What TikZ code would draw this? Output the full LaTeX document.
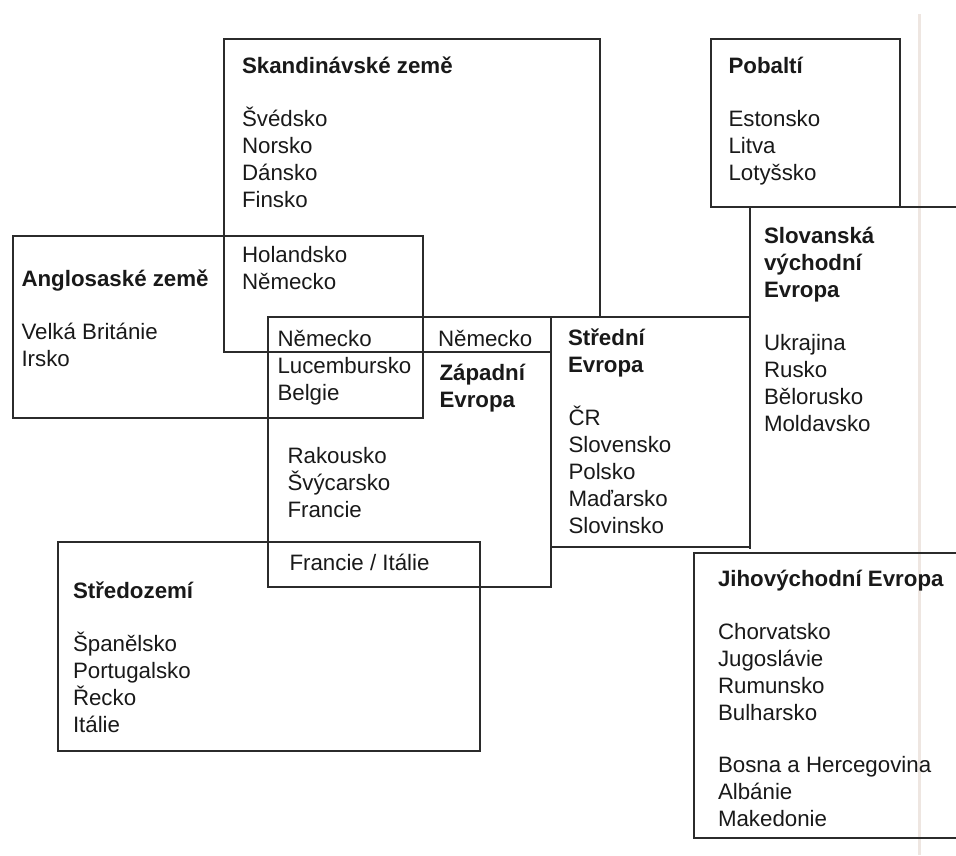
\documentclass[tikz,border=0pt]{standalone}
\usepackage{fontspec}
\setmainfont{Liberation Sans}
\newcommand\txtsize{\fontsize{22.3}{27}\selectfont}
\newcommand\stk[1]{\begin{tabular}[t]{@{}l@{}}#1\end{tabular}}
\definecolor{linecol}{HTML}{2B2B2B}
\definecolor{gutter}{HTML}{EEE6E1}
\tikzset{
  boxline/.style={draw=linecol, line width=1.6pt, line join=miter},
  lbl/.style={anchor=base west, inner sep=0pt, outer sep=0pt, font=\txtsize, text=black!90},
  hd/.style={lbl, font=\txtsize\bfseries},
}
\begin{document}
\begin{tikzpicture}[x=1pt, y=-1pt]
\useasboundingbox (0,0) rectangle (956,855);
% faint page gutter line
\draw[gutter, line width=3pt] (919,14) -- (919,855);
% boxes
\draw[boxline] (551,352) -- (224,352) -- (224,39) -- (600,39) -- (600,317);      % Skandinavske
\draw[boxline] (13,236) rectangle (423,418);                                  % Anglosaske
\draw[boxline] (268,317) rectangle (551,587);                                 % Zapadni
\draw[boxline] (551,317) -- (750,317) -- (750,547) -- (551,547);              % Stredni
\draw[boxline] (711,39) rectangle (900,207);                                  % Pobalti
\draw[boxline] (956,207) -- (750,207) -- (750,549);                           % Slovanska
\draw[boxline] (956,553) -- (694,553) -- (694,838) -- (956,838);              % Jihovychodni
\draw[boxline] (58,542) rectangle (480,751);                                  % Stredozemi
% texts
\node[hd]  (skh)  at (242,73.3)  {Skandinávské země};
\node[lbl] (skl)  at (242,126)   {\stk{Švédsko\\Norsko\\Dánsko\\Finsko}};
\node[lbl] (hol)  at (242,262.3) {\stk{Holandsko\\Německo}};
\node[hd]  (agh)  at (21.5,286.7){Anglosaské země};
\node[lbl] (agl)  at (21.5,339.3){\stk{Velká Británie\\Irsko}};
\node[lbl] (zl1)  at (277.5,346) {\stk{Německo\\Lucembursko\\Belgie}};
\node[lbl] (zn2)  at (438,346)   {Německo};
\node[hd]  (zh)   at (439.5,380.7){\stk{Západní\\Evropa}};
\node[lbl] (zl2)  at (287.5,463.3){\stk{Rakousko\\Švýcarsko\\Francie}};
\node[lbl] (fi)   at (289.5,570) {Francie / Itálie};
\node[hd]  (sdh)  at (73,598.3)  {Středozemí};
\node[lbl] (sdl)  at (73,651)    {\stk{Španělsko\\Portugalsko\\Řecko\\Itálie}};
\node[hd]  (sth)  at (568,345)   {\stk{Střední\\Evropa}};
\node[lbl] (stl)  at (568.5,425) {\stk{ČR\\Slovensko\\Polsko\\Maďarsko\\Slovinsko}};
\node[hd]  (pbh)  at (728.5,73.3){Pobaltí};
\node[lbl] (pbl)  at (728.5,126) {\stk{Estonsko\\Litva\\Lotyšsko}};
\node[hd]  (slh)  at (764,243.3) {\stk{Slovanská\\východní\\Evropa}};
\node[lbl] (sll)  at (764,350)   {\stk{Ukrajina\\Rusko\\Bělorusko\\Moldavsko}};
\node[hd]  (jvh)  at (718,586.7) {Jihovýchodní Evropa};
\node[lbl] (jvl1) at (718,639.3) {\stk{Chorvatsko\\Jugoslávie\\Rumunsko\\Bulharsko}};
\node[lbl] (jvl2) at (718,772.7) {\stk{Bosna a Hercegovina\\Albánie\\Makedonie}};
\end{tikzpicture}
\end{document}
